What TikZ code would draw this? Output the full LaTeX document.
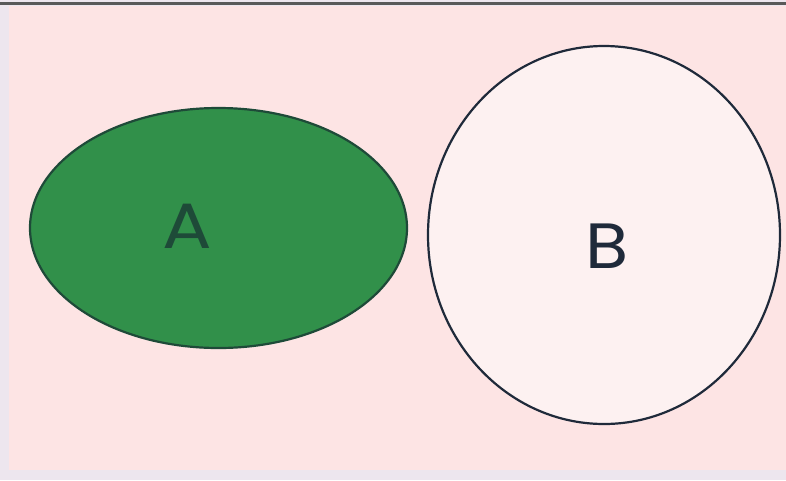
\documentclass[tikz,border=0pt]{standalone}
\usepackage{fontspec}
\setmainfont{Poppins}
\usetikzlibrary{shapes.geometric}
\definecolor{bgpink}{HTML}{FDE4E4}
\definecolor{edgegray}{HTML}{EDE6EE}
\definecolor{setgreen}{HTML}{31904A}
\definecolor{darkgreen}{HTML}{1E4A38}
\definecolor{paleB}{HTML}{FDF1F1}
\definecolor{inkB}{HTML}{1F2A3A}
\tikzset{setshape/.style={ellipse, draw=#1, line width=2.2pt, inner sep=0pt}}
\begin{document}
\begin{tikzpicture}[x=1pt,y=-1pt]
    \useasboundingbox (0,0) rectangle (786,480);
    \fill[edgegray] (0,0) rectangle (786,480);
    \fill[bgpink] (9,6) rectangle (786,470);
    \draw[black!65, line width=2.5pt] (0,3.5) -- (786,3.5);

    \node[setshape=darkgreen, fill=setgreen, minimum width=377pt, minimum height=240pt] (setA) at (218.5,228) {};
    \node[setshape=inkB, fill=paleB, minimum width=352pt, minimum height=378pt] (setB) at (604,235) {};

    \node[text=darkgreen, font=\fontsize{64}{64}\selectfont, xscale=1.15] (labelA) at (187,226) {A};
    \node[text=inkB, font=\fontsize{64}{64}\selectfont, xscale=1.1] (labelB) at (607,246) {B};
\end{tikzpicture}
\end{document}
